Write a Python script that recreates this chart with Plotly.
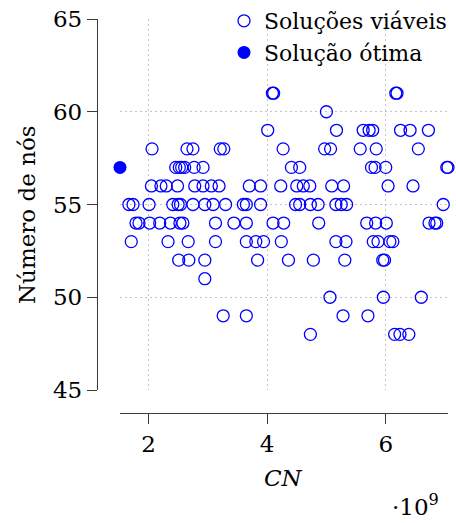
import plotly.graph_objects as go

# Soluções viáveis: CN (custo) e número de nós de cada solução, agrupadas por número de nós
cn_viaveis = [
    4.09e9, 4.11e9, 6.17e9, 6.19e9,                                   # 61
    5.00e9,                                                           # 60
    4.01e9, 5.17e9, 5.62e9, 5.72e9, 5.78e9, 6.25e9, 6.41e9, 6.72e9,   # 59
    2.06e9, 2.65e9, 2.75e9, 3.21e9, 3.27e9, 4.27e9, 4.97e9, 5.07e9,
    5.57e9, 5.84e9, 6.55e9,                                           # 58
    2.46e9, 2.52e9, 2.56e9, 2.61e9, 2.77e9, 2.92e9, 4.41e9, 4.55e9,
    5.76e9, 5.82e9, 6.00e9, 7.03e9, 7.05e9,                           # 57
    2.05e9, 2.21e9, 2.30e9, 2.49e9, 2.78e9, 2.92e9, 3.06e9, 3.19e9,
    3.70e9, 3.89e9, 4.23e9, 4.50e9, 4.61e9, 4.72e9, 5.09e9, 5.29e9,
    6.04e9, 6.46e9,                                                   # 56
    1.67e9, 1.74e9, 2.01e9, 2.41e9, 2.50e9, 2.54e9, 2.75e9, 2.95e9,
    3.09e9, 3.30e9, 3.60e9, 3.65e9, 3.89e9, 4.48e9, 4.55e9, 4.73e9,
    4.86e9, 5.16e9, 5.25e9, 5.34e9, 6.97e9,                           # 55
    1.79e9, 1.84e9, 2.02e9, 2.19e9, 2.37e9, 2.53e9, 2.58e9, 3.13e9,
    3.44e9, 3.65e9, 4.10e9, 4.28e9, 4.87e9, 5.68e9, 5.83e9, 6.01e9,
    6.73e9, 6.83e9, 6.86e9,                                           # 54
    1.71e9, 2.33e9, 2.67e9, 3.13e9, 3.65e9, 3.81e9, 3.94e9, 4.24e9,
    5.16e9, 5.33e9, 5.79e9, 5.87e9, 6.07e9, 6.12e9,                   # 53
    2.51e9, 2.68e9, 2.95e9, 3.84e9, 4.36e9, 4.78e9, 5.31e9, 5.95e9,
    5.98e9,                                                           # 52
    2.95e9,                                                           # 51
    5.06e9, 5.96e9, 6.60e9,                                           # 50
    3.26e9, 3.65e9, 5.28e9, 5.70e9,                                   # 49
    4.73e9, 6.15e9, 6.24e9, 6.39e9,                                   # 48
]
nos_viaveis = (
    [61] * 4 + [60] * 1 + [59] * 8 + [58] * 11 + [57] * 13 + [56] * 18
    + [55] * 21 + [54] * 19 + [53] * 14 + [52] * 9 + [51] * 1 + [50] * 3
    + [49] * 4 + [48] * 4
)

# Solução ótima
cn_otima = [1.52e9]
nos_otima = [57]

x_ticks = [2e9, 4e9, 6e9]
x_tick_labels = ["2", "4", "6"]
y_ticks = [45, 50, 55, 60, 65]

W, H = 456, 523
FONT = "DejaVu Serif"
FS = 23
FS_LEG = 22
AXIS_COLOR = "#3a3a3a"
GRID_COLOR = "#c4c4c4"

# plot area in pixels (left, right, top, bottom) and offset spines
px_l, px_r, px_t, px_b = 120, 448, 19, 390
yspine_px = 97
xspine_px = 413

fig = go.Figure()
fig.add_trace(go.Scatter(
    x=cn_viaveis, y=nos_viaveis, mode="markers", name="Soluções viáveis",
    marker=dict(symbol="circle-open", size=12, color="#0000ff",
                line=dict(width=1.3, color="#0000ff")),
    cliponaxis=False,
))
fig.add_trace(go.Scatter(
    x=cn_otima, y=nos_otima, mode="markers", name="Solução ótima",
    marker=dict(symbol="circle", size=13, color="#0000ff"),
    cliponaxis=False,
))

fig.update_layout(
    width=W, height=H,
    margin=dict(l=0, r=0, t=0, b=0, autoexpand=False),
    paper_bgcolor="white", plot_bgcolor="white",
    font=dict(family=FONT, size=FS, color="black"),
    showlegend=True,
    legend=dict(x=224 / W, y=1.0, xanchor="left", yanchor="top",
                bgcolor="rgba(0,0,0,0)", borderwidth=0,
                font=dict(family=FONT, size=FS_LEG), itemwidth=30,
                tracegroupgap=0),
    xaxis=dict(
        domain=[px_l / W, px_r / W],
        range=[1.52e9, 7.05e9],
        anchor="free", position=1 - xspine_px / H, automargin=False,
        showline=True, linecolor=AXIS_COLOR, linewidth=1.3,
        ticks="outside", ticklen=10, tickwidth=1.3, tickcolor=AXIS_COLOR,
        tickvals=x_ticks, ticktext=x_tick_labels,
        tickfont=dict(family=FONT, size=FS),
        showgrid=True, gridcolor=GRID_COLOR, gridwidth=1, griddash="1.5px,3.5px",
        zeroline=False,
    ),
    yaxis=dict(
        domain=[1 - px_b / H, 1 - px_t / H],
        range=[45, 65],
        anchor="free", position=yspine_px / W, automargin=False,
        showline=True, linecolor=AXIS_COLOR, linewidth=1.3,
        ticks="outside", ticklen=10, tickwidth=1.3, tickcolor=AXIS_COLOR,
        tickvals=y_ticks,
        tickfont=dict(family=FONT, size=FS),
        showgrid=True, gridcolor=GRID_COLOR, gridwidth=1, griddash="1.5px,3.5px",
        zeroline=False,
    ),
    annotations=[
        dict(text="<i>CN</i>", xref="paper", yref="paper",
             x=283 / W, y=1 - 478 / H, showarrow=False,
             xanchor="center", yanchor="middle",
             font=dict(family=FONT, size=FS)),
        dict(text="·10<sup>9</sup>", xref="paper", yref="paper",
             x=415 / W, y=1 - 505 / H, showarrow=False,
             xanchor="center", yanchor="middle",
             font=dict(family=FONT, size=FS)),
        dict(text="Número de nós", xref="paper", yref="paper",
             x=27 / W, y=1 - 215 / H, showarrow=False, textangle=-90,
             xanchor="center", yanchor="middle",
             font=dict(family=FONT, size=FS)),
    ],
)

fig.write_html("out.html")
